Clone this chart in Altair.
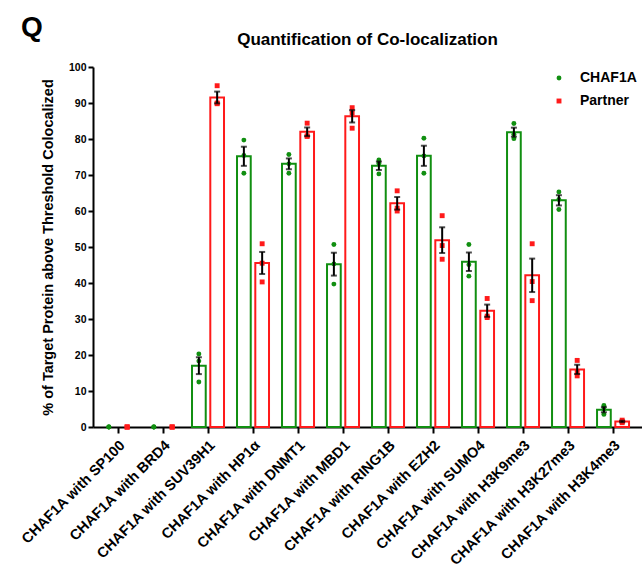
import altair as alt
import pandas as pd

categories = ["CHAF1A with SP100", "CHAF1A with BRD4", "CHAF1A with SUV39H1", "CHAF1A with HP1α",
              "CHAF1A with DNMT1", "CHAF1A with MBD1", "CHAF1A with RING1B", "CHAF1A with EZH2",
              "CHAF1A with SUMO4", "CHAF1A with H3K9me3", "CHAF1A with H3K27me3", "CHAF1A with H3K4me3"]
series_names = ["CHAF1A", "Partner"]

chaf1a_reps = [
    [0, 0, 0],
    [0, 0, 0],
    [20.3, 18.3, 12.5],
    [79.7, 75.4, 70.5],
    [75.7, 73.1, 70.5],
    [50.7, 45.3, 39.7],
    [74.2, 73.2, 70.3],
    [80.2, 75.3, 70.5],
    [50.7, 45.1, 41.9],
    [84.3, 81.3, 80.1],
    [65.3, 63.2, 60.4],
    [6.0, 4.9, 3.5],
]
partner_reps = [
    [0, 0, 0],
    [0, 0, 0],
    [94.8, 90.0, 89.8],
    [50.9, 45.5, 40.3],
    [84.4, 80.9, 80.7],
    [88.7, 87.2, 83.0],
    [65.6, 60.8, 60.0],
    [58.7, 50.4, 46.6],
    [35.7, 30.8, 30.4],
    [50.9, 40.4, 35.1],
    [18.5, 15.3, 14.2],
    [1.9, 1.5, 1.2],
]

colors = ["#118f11", "#ff1a1a"]
FONT = "Liberation Sans"

rows = []
for cat, reps in zip(categories, chaf1a_reps):
    for v in reps:
        rows.append({"category": cat, "series": "CHAF1A", "value": v})
for cat, reps in zip(categories, partner_reps):
    for v in reps:
        rows.append({"category": cat, "series": "Partner", "value": v})
df = pd.DataFrame(rows)

xscale = alt.Scale(paddingInner=0.289, paddingOuter=0.244, align=0.41)
xoff_scale = alt.Scale(domain=series_names, paddingInner=0.25, paddingOuter=0)
yscale = alt.Scale(domain=[0, 100], nice=False)

X = alt.X("category:N", sort=categories, scale=xscale,
          axis=alt.Axis(title=None, labelAngle=-45, labelFontSize=14.5, labelFontWeight="bold",
                        labelPadding=5, labelLimit=300, tickSize=6))
XO = alt.XOffset("series:N", sort=series_names, scale=xoff_scale)
Yax = alt.Axis(title="% of Target Protein above Threshold Colocalized", values=list(range(0, 101, 10)),
               labelFontSize=10.5, labelFontWeight="bold", titleFontSize=14.5, titleFontWeight="bold",
               titlePadding=13, grid=False, tickSize=5, labelOverlap=False)

base = alt.Chart(df)


def bar_layer(name, col):
    return base.transform_filter(alt.datum.series == name).transform_aggregate(
        mean="mean(value)", groupby=["category", "series"]
    ).transform_filter("datum.mean > 0").mark_bar(fill="white", stroke=col, strokeWidth=2).encode(
        x=X, xOffset=XO,
        y=alt.Y("mean:Q", scale=yscale, axis=Yax),
    )


bars_a = bar_layer(series_names[0], colors[0])
bars_b = bar_layer(series_names[1], colors[1])

leg = alt.Legend(title=None, orient="none", legendX=459, legendY=4, labelFontSize=14,
                 labelFontWeight="bold", symbolSize=24, rowPadding=9, labelOffset=14)

points = base.mark_point(filled=True, opacity=1, size=24).encode(
    x=X, xOffset=XO,
    y=alt.Y("value:Q", scale=yscale, axis=Yax),
    color=alt.Color("series:N", scale=alt.Scale(domain=series_names, range=colors), legend=leg),
    shape=alt.Shape("series:N", scale=alt.Scale(domain=series_names, range=["circle", "square"]),
                    legend=leg),
)

err = base.transform_aggregate(
    mean="mean(value)", sem="stderr(value)", groupby=["category", "series"]
).transform_filter("datum.sem > 0").transform_calculate(
    lo="datum.mean - datum.sem", hi="datum.mean + datum.sem"
)

err_rule = err.mark_rule(color="black", strokeWidth=2).encode(
    x=X, xOffset=XO, y=alt.Y("lo:Q", scale=yscale, axis=Yax), y2="hi:Q"
)
err_caps = err.transform_fold(["lo", "hi"], as_=["end", "pos"]).mark_tick(
    color="black", thickness=2, size=6
).encode(x=X, xOffset=XO, y=alt.Y("pos:Q", scale=yscale, axis=Yax))

qlabel = alt.Chart(pd.DataFrame({"t": ["Q"]})).mark_text(
    fontSize=28, fontWeight="bold", font=FONT, color="black", align="center", baseline="middle"
).encode(text="t:N", x=alt.value(-61), y=alt.value(-39))

chart = alt.layer(bars_a, bars_b, points, err_rule, err_caps, qlabel).properties(
    width=549, height=360,
    title=alt.TitleParams("Quantification of Co-localization", fontSize=17, fontWeight="bold",
                          font=FONT, color="black", anchor="middle", offset=0, dy=35),
    autosize=alt.AutoSizeParams(type="none"),
    padding={"left": 93, "top": 67, "right": 0, "bottom": 141},
).configure_view(stroke=None).configure_axis(
    domainColor="black", domainWidth=2, tickColor="black", tickWidth=2,
    labelColor="black", titleColor="black", labelFont=FONT, titleFont=FONT,
).configure_legend(labelFont=FONT, labelColor="black")

chart.save("out.html", embed_options={"renderer": "svg", "actions": False})
